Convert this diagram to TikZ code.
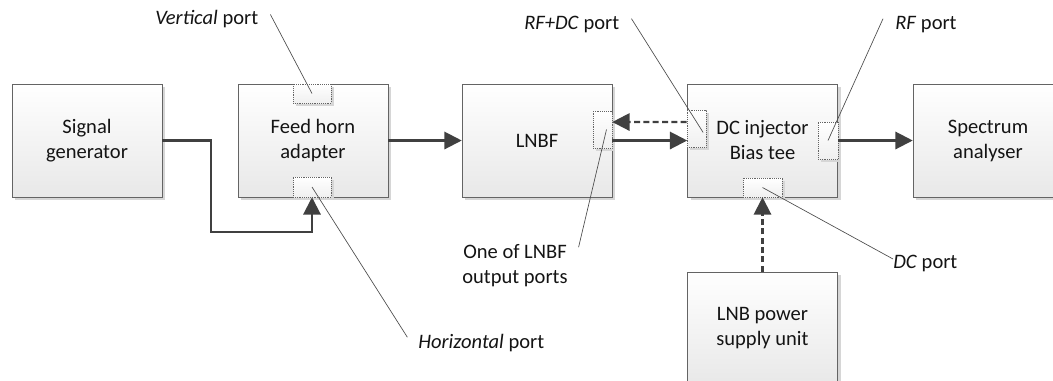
\documentclass[tikz,border=0pt]{standalone}
\usepackage{fontspec}
\setmainfont{Carlito}
\usepackage{tikz}
\usetikzlibrary{arrows.meta, shadows}
\tikzstyle{diagram} = [x = .75pt, y = -.75pt]
\definecolor{lineColor}{RGB}{64,64,64}
\definecolor{borderColor}{RGB}{100,100,100}
\definecolor{textColor}{RGB}{20,20,20}
\newcommand{\blockFont}{\fontsize{15.4}{18.75}\selectfont}
\tikzstyle{boxShadow} = [drop shadow = {shadow xshift = 2.5pt, shadow yshift = -2.5pt, fill = black!16, opacity = 1}]
\tikzstyle{blockStyle} = [draw = borderColor, top color = white, bottom color = black!9, boxShadow, minimum width = 112.5pt, minimum height = 84.75pt, align = center, inner sep = 0pt, font = \blockFont, text = textColor]
\tikzstyle{portStyle} = [draw = borderColor, densely dotted, top color = white, bottom color = black!6, boxShadow, inner sep = 0pt]
\tikzstyle{signalArrow} = [draw = lineColor, line width = 1.6pt, -{Triangle[length = 13pt, width = 13pt]}]
\tikzstyle{powerArrow} = [signalArrow, dash pattern = on 4.5pt off 2.5pt]
\tikzstyle{calloutLine} = [draw = black!70, line width = .5pt]
\tikzstyle{labelText} = [font = \blockFont, text = textColor, inner sep = 0pt, align = center]
\newcommand{\block}[4]{\node [blockStyle] (#1) at (#2, #3) {#4};}
\newcommand{\port}[5]{\node [portStyle, minimum width = #4 * .75pt, minimum height = #5 * .75pt] (#1) at (#2, #3) {};}

\begin{document}
\begin{tikzpicture}[diagram]
  \useasboundingbox (0, 0) rectangle (1053, 380);
  % blocks
  \block{gen}{87}{140.5}{Signal\\generator}
  \block{feed}{313}{140.5}{Feed horn\\adapter}
  \block{lnbf}{537}{140.5}{LNBF}
  \block{dc}{762.5}{140.5}{DC injector\\Bias tee}
  \block{spec}{988}{140.5}{Spectrum\\analyser}
  \block{psu}{762.5}{328.5}{LNB power\\supply unit}

  % ports
  \port{fhTop}{312}{93.5}{38}{19}
  \port{fhBot}{312}{187}{38}{20}
  \port{lnbfOut}{602.5}{129.5}{19}{37}
  \port{dcIn}{696.5}{128.5}{19}{37}
  \port{dcOut}{828}{140.5}{20}{37}
  \port{dcDc}{762.5}{187.5}{39}{19}

  % connections
  \coordinate (bend) at (211, 232);
  \draw [signalArrow] (gen.east) -| (bend) -| (fhBot.south);
  \draw [signalArrow] (feed.east) -- (lnbf.west);
  \draw [signalArrow] (lnbf.east) -- (dc.west);
  \draw [powerArrow] ([yshift = 4.9pt]dcIn.west) -- ([yshift = 5.6pt]lnbfOut.east);
  \draw [signalArrow] (dc.east) -- (spec.west);
  \draw [powerArrow] (psu.north) -- (dcDc.south);

  % labels
  \node [labelText, anchor = base west] (vertLbl) at (155, 24) {\textit{Vertical} port};
  \node [labelText, anchor = base west] (horLbl) at (418, 348) {\textit{Horizontal} port};
  \node [labelText, anchor = base west] (rfdcLbl) at (524, 29) {\textit{RF+DC} port};
  \node [labelText] (oneLbl) at (515, 266) {One of LNBF\\output ports};
  \node [labelText, anchor = base west] (rfLbl) at (895, 29) {\textit{RF} port};
  \node [labelText, anchor = base west] (dcLbl) at (893, 268) {\textit{DC} port};

  \draw [calloutLine] ([xshift = 9pt, yshift = 3pt]vertLbl.east) -- (fhTop.center);
  \draw [calloutLine] ([xshift = -8pt, yshift = 4pt]horLbl.west) -- (fhBot.center);
  \draw [calloutLine] ([xshift = 9pt, yshift = 4pt]rfdcLbl.east) -- ([xshift = 5pt, yshift = -3pt]dcIn.center);
  \draw [calloutLine] ([xshift = 8pt, yshift = -2pt]oneLbl.north east) -- ([xshift = 3pt]lnbfOut.center);
  \draw [calloutLine] ([xshift = -9pt, yshift = 4pt]rfLbl.west) -- (dcOut.center);
  \draw [calloutLine] ([yshift = 3pt]dcLbl.west) -- (dcDc.center);
\end{tikzpicture}
\end{document}
